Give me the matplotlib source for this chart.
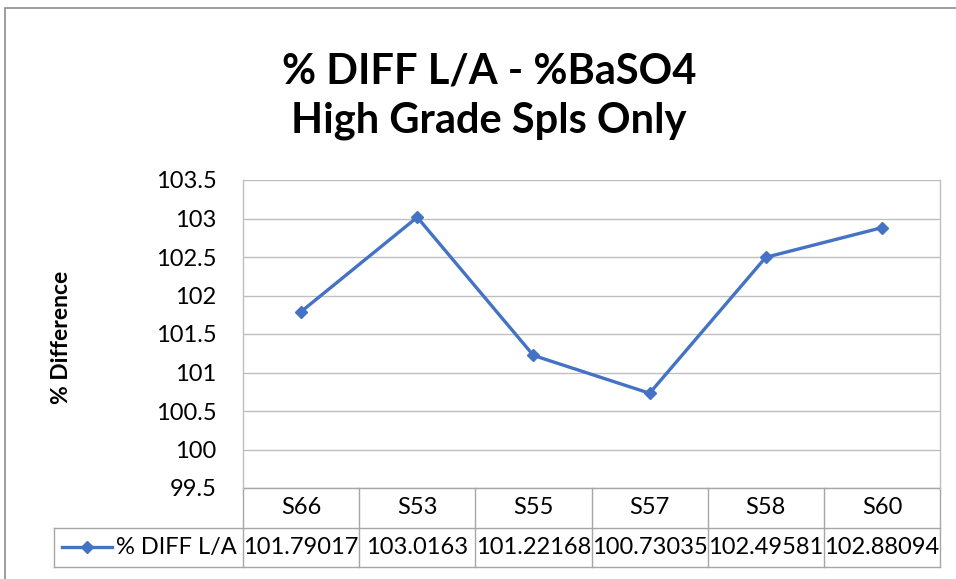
import matplotlib
matplotlib.use("Agg")
import matplotlib.pyplot as plt
from matplotlib.patches import Rectangle
from matplotlib.lines import Line2D

plt.rcParams['font.family'] = ['Lato', 'DejaVu Sans']

categories = ["S66", "S53", "S55", "S57", "S58", "S60"]
values = [101.79017, 103.0163, 101.22168, 100.73035, 102.49581, 102.88094]
value_labels = ["101.79017", "103.0163", "101.22168", "100.73035", "102.49581", "102.88094"]
series_name = "% DIFF L/A"
title_lines = ["% DIFF L/A - %BaSO4", "High Grade Spls Only"]
ylabel = "% Difference"
yticks = [99.5, 100, 100.5, 101, 101.5, 102, 102.5, 103, 103.5]

W, H = 956, 579
fig = plt.figure(figsize=(W / 100, H / 100), dpi=100)
fig.patch.set_facecolor("white")

# outer chart border (cropped at right/bottom)
fig.patches.append(Rectangle((5 / W, -0.1), 2.0, (H - 8) / H + 0.1,
                             transform=fig.transFigure, fill=False,
                             edgecolor="#8c8c8c", linewidth=1.2))

ax = fig.add_axes([243 / W, (H - 488) / H, 697 / W, 308 / H])
line_color = "#4472C4"
grid_color = "#BFBFBF"
tab_color = "#A6A6A6"
fs = 17

x = list(range(len(categories)))
ax.plot(x, values, color=line_color, linewidth=2.4, marker="D", markersize=6.5,
        zorder=3)
ax.set_xlim(-0.5, len(categories) - 0.5)
ax.set_ylim(yticks[0], yticks[-1])
ax.set_yticks(yticks)
ax.set_yticklabels([f"{t:g}" for t in yticks], fontsize=fs)
ax.tick_params(axis="y", length=0, pad=19)
ax.set_xticks([])
ax.yaxis.grid(True, color=grid_color, linewidth=1)
ax.set_axisbelow(True)
for s in ["top", "bottom"]:
    ax.spines[s].set_visible(False)
for s in ["left", "right"]:
    ax.spines[s].set_color(grid_color)
    ax.spines[s].set_linewidth(1)

# title (two lines, centred over the chart)
fig.text(489 / W, 1 - 83 / H, title_lines[0], fontsize=30, fontweight="bold",
         ha="center", va="baseline")
fig.text(489 / W, 1 - 132 / H, title_lines[1], fontsize=30, fontweight="bold",
         ha="center", va="baseline")

ax.text((61 - 243) / 697, 0.49, ylabel, transform=ax.transAxes, rotation=90,
        fontsize=16.5, fontweight="bold", ha="center", va="center")

# data table below axes
row_h = 39.5 / 308
xt = ax.get_xaxis_transform()
left_tab = (54 - 243) / 697
kw = dict(color=tab_color, linewidth=1, clip_on=False)
ax.plot([-0.5, len(categories) - 0.5], [0, 0], transform=xt, **kw)
ax.plot([left_tab, 1], [-row_h, -row_h], transform=ax.transAxes, **kw)
ax.plot([left_tab, 1], [-2 * row_h, -2 * row_h], transform=ax.transAxes, **kw)
ax.plot([left_tab, left_tab], [-row_h, -2 * row_h], transform=ax.transAxes, **kw)
for i in range(len(categories) + 1):
    ax.plot([i - 0.5, i - 0.5], [0, -2 * row_h], transform=xt, **kw)
for i, (c, v) in enumerate(zip(categories, value_labels)):
    ax.text(i, -0.5 * row_h, c, transform=xt, ha="center", va="center", fontsize=fs)
    ax.text(i, -1.5 * row_h, v, transform=xt, ha="center", va="center", fontsize=fs)

# legend key in table
ky = -1.5 * row_h
kx0 = (62 - 243) / 697
kx1 = (112 - 243) / 697
ax.add_line(Line2D([kx0, kx1], [ky, ky], transform=ax.transAxes, color=line_color,
                   linewidth=2.4, clip_on=False))
ax.add_line(Line2D([(kx0 + kx1) / 2], [ky], transform=ax.transAxes, color=line_color,
                   marker="D", markersize=6.5, clip_on=False))
ax.text((116 - 243) / 697, ky, series_name, transform=ax.transAxes, ha="left",
        va="center", fontsize=fs)

fig.savefig("out.png", dpi=100, facecolor="white")
